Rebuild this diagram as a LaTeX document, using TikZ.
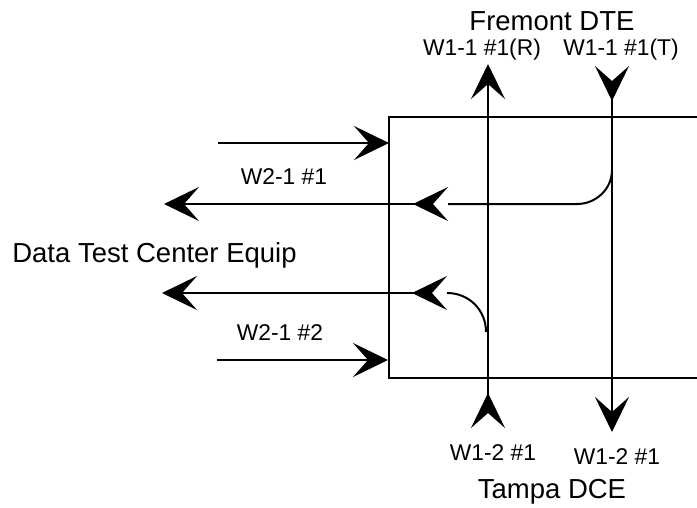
\documentclass[tikz,border=0pt]{standalone}
\usepackage{fontspec}
\setmainfont{Liberation Sans}
\usetikzlibrary{arrows.meta, positioning}

\begin{document}
\begin{tikzpicture}[
        x=1pt, y=-1pt,
        wire/.style={line width=2pt},
        wiretip/.tip={Stealth[length=35pt, width=34pt, inset=15pt]},
        % small wire labels and the two site names
        lbl/.style={inner sep=0pt, anchor=base, font=\fontsize{22.8}{26}\selectfont},
        site/.style={inner sep=0pt, anchor=base, font=\fontsize{27.5}{32}\selectfont}
    ]
    \useasboundingbox (0,0) rectangle (697,507);
    \clip (0,0) rectangle (697,507);

    % --- Panel (right side runs off the page) ---
    \coordinate (pnlTR) at (720,117);
    \coordinate (pnlTL) at (389,117);
    \coordinate (pnlBL) at (389,378);
    \coordinate (pnlBR) at (720,378);
    \draw[wire] (pnlTR) -- (pnlTL) -- (pnlBL) -- (pnlBR);

    % --- Wire end points ---
    \coordinate (rxBot) at (488,428);
    \coordinate (rxTop) at (488,64);
    \coordinate (txTop) at (612,66);
    \coordinate (txBot) at (612,432);
    \coordinate (in1L) at (218,143);
    \coordinate (in1R) at (389,143);
    \coordinate (in2L) at (217,360);
    \coordinate (in2R) at (388,360);
    \coordinate (out1Bend) at (612,170);
    \coordinate (out1Mid) at (448,204);
    \coordinate (out1L) at (164,204);
    \coordinate (out2Bend) at (486,332);
    \coordinate (out2Mid) at (447,293);
    \coordinate (out2L) at (162,293);

    % --- Labels ---
    \node[site] (fremont) at (552,30) {Fremont DTE};
    \node[lbl] (rxTopLbl) at (482,55) {W1-1 \#1(R)};
    \node[lbl] (txTopLbl) at (621,55) {W1-1 \#1(T)};
    \node[lbl] (w21a) at (284,184) {W2-1 \#1};
    \node[site] (dtc) at (154.5,262) {Data Test Center Equip};
    \node[lbl] (w21b) at (280,340) {W2-1 \#2};
    \node[lbl] (rxBotLbl) at (493,460) {W1-2 \#1};
    \node[lbl] (txBotLbl) at (617,464) {W1-2 \#1};
    \node[site] (tampa) at (552,498) {Tampa DCE};

    % --- Vertical wires ---
    \draw[wire, {wiretip[reversed]}-{wiretip}] (rxBot) -- (rxTop);
    \draw[wire, {wiretip[reversed]}-{wiretip}] (txTop) -- (txBot);

    % --- Horizontal wires ---
    \draw[wire, -{wiretip}] (in1L) -- (in1R);
    \draw[wire, -{wiretip}] (in2L) -- (in2R);

    \draw[wire] (out1Bend) .. controls (612,189) and (596,204) .. (577,204) -- (out1Mid);
    \draw[wire, {wiretip[reversed]}-{wiretip}] (out1Mid) -- (out1L);

    \draw[wire] (out2Bend) .. controls (486,310) and (469,293) .. (out2Mid);
    \draw[wire, {wiretip[reversed]}-{wiretip}] (out2Mid) -- (out2L);

\end{tikzpicture}
\end{document}
